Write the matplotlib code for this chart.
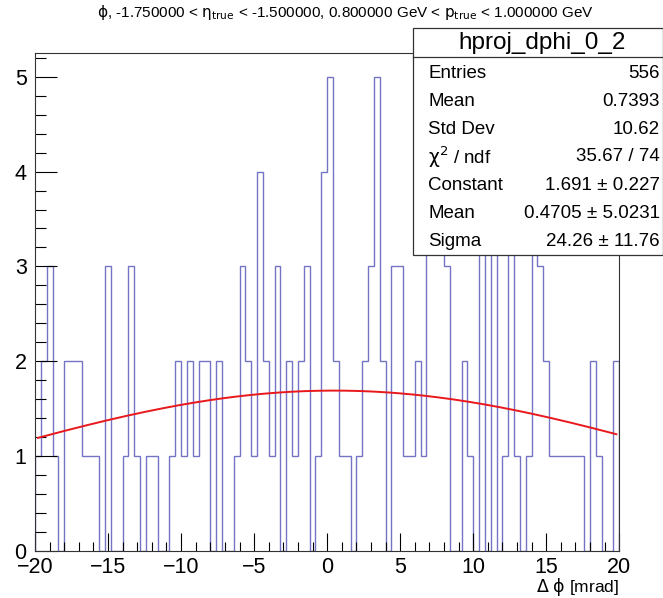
import numpy as np
import matplotlib
matplotlib.use("Agg")
import matplotlib.pyplot as plt
from matplotlib.patches import Rectangle
from matplotlib.lines import Line2D
from matplotlib.ticker import MultipleLocator

plt.rcParams['font.family'] = ['Liberation Sans', 'DejaVu Sans']
plt.rcParams['mathtext.fontset'] = 'dejavusans'

# histogram: 100 bins over [-20, 20] mrad
x_lo, x_hi, n_bins = -20.0, 20.0, 100
counts = [1, 2, 3, 1, 0, 2, 2, 2, 1, 1,
          1, 0, 3, 0, 0, 1, 3, 1, 0, 1,
          1, 0, 0, 1, 2, 1, 2, 1, 2, 2,
          0, 2, 0, 0, 1, 3, 2, 1, 4, 2,
          1, 3, 0, 2, 1, 2, 3, 0, 1, 4,
          5, 2, 1, 1, 0, 1, 2, 3, 5, 2,
          0, 3, 3, 1, 1, 2, 1, 4, 4, 4,
          3, 0, 0, 2, 1, 0, 4, 0, 4, 0,
          1, 4, 1, 0, 1, 4, 3, 2, 1, 1,
          1, 1, 1, 1, 0, 2, 1, 0, 0, 2]

# gaussian fit result
fit_const, fit_mean, fit_sigma = 1.691, 0.4705, 24.26
fit_range = (-19.8, 19.8)

title = (r"$\mathrm{\phi}$, -1.750000 < $\mathrm{\eta}_{\mathrm{true}}$ < -1.500000, "
         r"0.800000 GeV < $\mathrm{p}_{\mathrm{true}}$ < 1.000000 GeV")
stats_name = "hproj_dphi_0_2"
stats_labels = ["Entries", "Mean", "Std Dev", r"$\mathrm{\chi}^{2}$ / ndf", "Constant", "Mean", "Sigma"]
stats_values = ["556", "0.7393", "10.62", "35.67 / 74", "1.691 \u00b1 0.227",
                "0.4705 \u00b1 5.0231", "24.26 \u00b1 11.76"]

W, H = 663, 598


def px(x, y):
    return x / W, 1 - y / H


fig = plt.figure(figsize=(W / 100, H / 100), dpi=100)
ax = fig.add_axes([35 / W, 1 - 551 / H, (619.3 - 35) / W, (551 - 53) / H])

edges = np.linspace(x_lo, x_hi, n_bins + 1)
ax.stairs(counts, edges, baseline=0, color="#7474c4", linewidth=1.0)

xf = np.linspace(*fit_range, 300)
yf = fit_const * np.exp(-0.5 * ((xf - fit_mean) / fit_sigma) ** 2)
ax.plot(xf, yf, color="#e8181c", linewidth=1.4)

ax.set_xlim(x_lo, x_hi)
ax.set_ylim(0, 5.25)
ax.xaxis.set_major_locator(MultipleLocator(5))
ax.xaxis.set_minor_locator(MultipleLocator(1))
ax.yaxis.set_major_locator(MultipleLocator(1))
ax.yaxis.set_minor_locator(MultipleLocator(0.2))
ax.tick_params(axis="x", which="major", direction="in", length=13, width=0.8,
               labelsize=15.5, pad=4)
ax.tick_params(axis="x", which="minor", direction="in", length=6.5, width=0.8)
ax.tick_params(axis="y", which="major", direction="in", length=16, width=0.8,
               labelsize=15.5, pad=6)
ax.tick_params(axis="y", which="minor", direction="in", length=8, width=0.8)
for s in ax.spines.values():
    s.set_linewidth(0.8)
    s.set_color("#333333")

fig.text(*px(345, 13), title, ha="center", va="center", fontsize=11)
fig.text(*px(619, 592), r"$\mathrm{\Delta}$ $\mathrm{\phi}$ [mrad]", ha="right", va="baseline",
         fontsize=12.5)

# stats box
bx0, by0, bx1, by1 = 413, 28, 662.5, 255
fig.patches.append(Rectangle(px(bx0, by1), (bx1 - bx0) / W, (by1 - by0) / H,
                             transform=fig.transFigure, facecolor="white",
                             edgecolor="#333333", linewidth=0.9, zorder=5))
fig.lines.append(Line2D([bx0 / W, bx1 / W], [1 - 57 / H] * 2, transform=fig.transFigure,
                        color="#333333", linewidth=0.9, zorder=6))
fig.text(*px(542, 43), stats_name, ha="center", va="center",
         fontsize=17.5, zorder=7)
for i, (lab, val) in enumerate(zip(stats_labels, stats_values)):
    y = 73 + 28 * i
    fig.text(*px(428, y), lab, ha="left", va="center", fontsize=13.5, zorder=7)
    fig.text(*px(660, y), val, ha="right", va="center", fontsize=13.5, zorder=7)

fig.savefig("out.png", dpi=100)
